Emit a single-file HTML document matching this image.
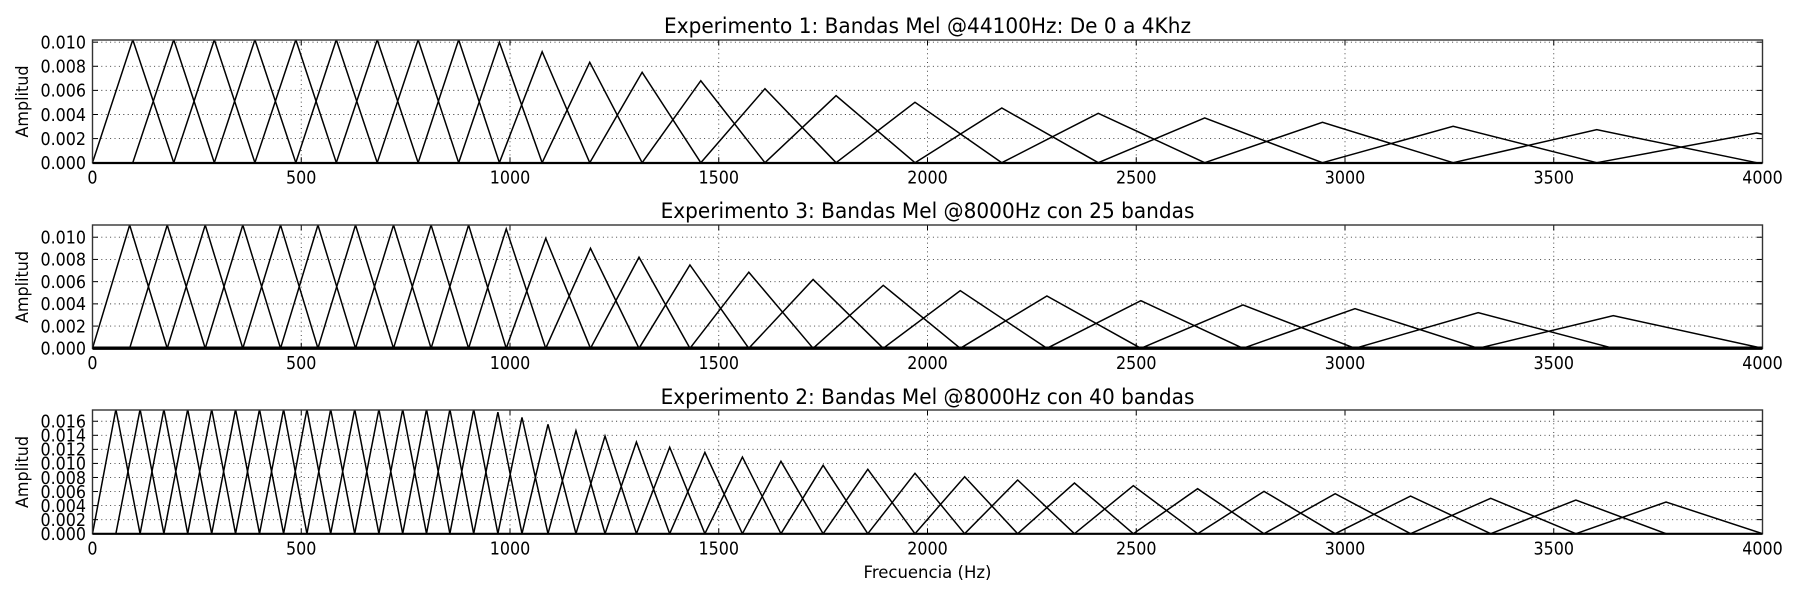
<!DOCTYPE html>
<html>
<head>
<meta charset="utf-8">
<title>Bandas Mel</title>
<style>
html,body{margin:0;padding:0;background:#fff;width:1800px;height:597px;overflow:hidden}
svg{display:block}
text{font-family:"DejaVu Sans","Liberation Sans",sans-serif;fill:#000}
.tick{font-size:17.8px}
.title{font-size:21.5px;text-anchor:middle}
.axlabel{font-size:17px;text-anchor:middle}
</style>
</head>
<body>
<svg id="fig" xmlns="http://www.w3.org/2000/svg" width="1800" height="597" viewBox="0 0 1800 597">
<rect x="0" y="0" width="1800" height="597" fill="#fff"/>
<g id="panel-0"></g>
<g id="panel-1"></g>
<g id="panel-2"></g>
<text class="title" x="927.5" y="33">Experimento 1: Bandas Mel @44100Hz: De 0 a 4Khz</text>
<text class="title" x="927.5" y="218">Experimento 3: Bandas Mel @8000Hz con 25 bandas</text>
<text class="title" x="927.5" y="404">Experimento 2: Bandas Mel @8000Hz con 40 bandas</text>
<text class="axlabel ylab" transform="translate(28,101.5) rotate(-90)">Amplitud</text>
<text class="axlabel ylab" transform="translate(28,287) rotate(-90)">Amplitud</text>
<text class="axlabel ylab" transform="translate(28,472) rotate(-90)">Amplitud</text>
<text class="axlabel xlab" x="927.5" y="578">Frecuencia (Hz)</text>
</svg>
<script>
// Shared x axis ticks (Hz)
const xTicks = [0, 500, 1000, 1500, 2000, 2500, 3000, 3500, 4000];
const xTickLabels = ['0', '500', '1000', '1500', '2000', '2500', '3000', '3500', '4000'];

// Experiment 1: band edges (Hz) and peak amplitudes
const exp1Edges = [0, 96.5, 194.6, 291.8, 389, 487, 584, 682, 780, 877, 974.6, 1077, 1191, 1316.5, 1457, 1610.7, 1781, 1970, 2178, 2409, 2664, 2946, 3259, 3603, 3986, 4370];
const exp1Peaks = [0.0102, 0.0102, 0.0102, 0.0102, 0.0102, 0.0102, 0.0102, 0.0102, 0.0102, 0.00999, 0.00921, 0.00833, 0.0075, 0.0068, 0.00614, 0.00556, 0.00501, 0.00454, 0.0041, 0.00371, 0.00335, 0.00302, 0.00274, 0.00246];
const exp1YTicks = [0, 0.002, 0.004, 0.006, 0.008, 0.01];
const exp1YLabels = ['0.000', '0.002', '0.004', '0.006', '0.008', '0.010'];

// Experiment 3: band edges (Hz) and peak amplitudes
const exp3Edges = [0, 89, 179, 270, 360, 450.4, 540, 630, 721, 811, 900.8, 991, 1085.6, 1192.8, 1309, 1431, 1572, 1726, 1894, 2078.5, 2286, 2511, 2755.6, 3024, 3319, 3642.6, 4000];
const exp3Peaks = [0.0111, 0.0111, 0.0111, 0.0111, 0.0111, 0.0111, 0.0111, 0.0111, 0.0111, 0.0111, 0.01075, 0.0099, 0.009, 0.0082, 0.0075, 0.00685, 0.0062, 0.00567, 0.00519, 0.00471, 0.00429, 0.0039, 0.00357, 0.00321, 0.00294];
const exp3YTicks = [0, 0.002, 0.004, 0.006, 0.008, 0.01];
const exp3YLabels = ['0.000', '0.002', '0.004', '0.006', '0.008', '0.010'];

// Experiment 2: band edges (Hz) and peak amplitudes
const exp2Edges = [0, 56, 114, 171, 228, 285.5, 342.6, 400, 457.7, 513.6, 570.5, 628, 686, 743, 800, 856, 913, 971, 1028.7, 1091, 1158, 1227.6, 1302.8, 1382.5, 1466.8, 1556.7, 1649, 1750, 1857, 1970, 2089, 2216, 2352, 2493, 2647, 2806, 2976.5, 3157, 3349, 3553, 3769, 4000];
const exp2Peaks = [0.0177, 0.0177, 0.0177, 0.0177, 0.0177, 0.0177, 0.0177, 0.0177, 0.0177, 0.0177, 0.0177, 0.0177, 0.0177, 0.0177, 0.0177, 0.0177, 0.0173, 0.01655, 0.01556, 0.01466, 0.0139, 0.01305, 0.0123, 0.01157, 0.0109, 0.0103, 0.00973, 0.00916, 0.00859, 0.00811, 0.00764, 0.00721, 0.00683, 0.0064, 0.00603, 0.00569, 0.00536, 0.00504, 0.00479, 0.00451];
const exp2YTicks = [0, 0.002, 0.004, 0.006, 0.008, 0.01, 0.012, 0.014, 0.016];
const exp2YLabels = ['0.000', '0.002', '0.004', '0.006', '0.008', '0.010', '0.012', '0.014', '0.016'];

const NS = 'http://www.w3.org/2000/svg';
const xLeft = 92.5, xRight = 1762.5, xMax = 4000;
function xPos(hz) { return xLeft + (hz / xMax) * (xRight - xLeft); }

function makeEl(tag, parent, attrs) {
  const el = document.createElementNS(NS, tag);
  for (const k in attrs) { el.setAttribute(k, attrs[k]); }
  parent.appendChild(el);
  return el;
}

function drawPanel(index, key, top, bottom, yMax, edges, peaks, yTicks, yLabels, baseWidth, baseY) {
  const g = document.getElementById('panel-' + index);
  const yPos = function (v) { return bottom - (v / yMax) * (bottom - top); };
  const clipId = 'clip-' + index;
  const defs = makeEl('defs', g, {});
  const clip = makeEl('clipPath', defs, { id: clipId });
  makeEl('rect', clip, { x: xLeft, y: top, width: xRight - xLeft, height: bottom - top + 2 });

  // grid + x ticks
  xTicks.forEach(function (t, i) {
    const x = xPos(t);
    const grid = makeEl('line', g, { x1: x, x2: x, y1: top, y2: bottom, stroke: '#333', 'stroke-width': 0.9, 'stroke-dasharray': '1 3.4' });
    
    
    const t1 = makeEl('line', g, { x1: x, x2: x, y1: bottom, y2: bottom - 5.5, stroke: '#000', 'stroke-width': 1 });
    
    
    const t2 = makeEl('line', g, { x1: x, x2: x, y1: top, y2: top + 5.5, stroke: '#000', 'stroke-width': 1 });
    
    
    const lab = makeEl('text', g, { class: 'tick', x: x, y: bottom + 20.8, 'text-anchor': 'middle' });
    lab.textContent = xTickLabels[i];
    
    
  });

  // grid + y ticks
  yTicks.forEach(function (t, i) {
    const y = yPos(t);
    const grid = makeEl('line', g, { x1: xLeft, x2: xRight, y1: y, y2: y, stroke: '#333', 'stroke-width': 0.9, 'stroke-dasharray': '1 3.4' });
    
    
    const t1 = makeEl('line', g, { x1: xLeft, x2: xLeft + 5.5, y1: y, y2: y, stroke: '#000', 'stroke-width': 1 });
    
    
    const t2 = makeEl('line', g, { x1: xRight, x2: xRight - 5.5, y1: y, y2: y, stroke: '#000', 'stroke-width': 1 });
    
    
    const lab = makeEl('text', g, { class: 'tick', x: 86, y: y + 6.3, 'text-anchor': 'end' });
    lab.textContent = yLabels[i];
    
    
  });

  // triangular filters
  const clipG = makeEl('g', g, { 'clip-path': 'url(#' + clipId + ')' });
  peaks.forEach(function (p, i) {
    const pts = [
      [edges[i], 0],
      [edges[i + 1], p],
      [edges[i + 2], 0]
    ].map(function (q) { return xPos(q[0]).toFixed(2) + ',' + yPos(q[1]).toFixed(2); }).join(' ');
    const band = makeEl('polyline', clipG, { points: pts, fill: 'none', stroke: '#000', 'stroke-width': 1.5, 'stroke-linejoin': 'miter' });
    
    
  });

  // frame
  const frame = makeEl('rect', g, { x: xLeft, y: top, width: xRight - xLeft, height: bottom - top, fill: 'none', stroke: '#333', 'stroke-width': 1.4 });
  
  

  // baseline where all filters sit at zero
  const base = makeEl('line', g, { x1: xPos(0), x2: xPos(xMax), y1: baseY, y2: baseY, stroke: '#000', 'stroke-width': baseWidth });
  
  
}

drawPanel(0, 'experiment-1', 40, 162.7, 0.01018, exp1Edges, exp1Peaks, exp1YTicks, exp1YLabels, 2.2, 163);
drawPanel(1, 'experiment-3', 225, 348.3, 0.0111, exp3Edges, exp3Peaks, exp3YTicks, exp3YLabels, 3.4, 348.2);
drawPanel(2, 'experiment-2', 410, 533.7, 0.0176, exp2Edges, exp2Peaks, exp2YTicks, exp2YLabels, 2.2, 533.8);

// Original figure text is slightly condensed horizontally: fit measured text widths
const squeezeSelectors = ['.tick', '.title', '.ylab', '.xlab'];
const squeezeFactors = [0.895, 0.934, 0.94, 0.97];
squeezeSelectors.forEach(function (sel, i) {
  document.querySelectorAll(sel).forEach(function (el) {
    const len = el.getComputedTextLength();
    el.setAttribute('textLength', (len * squeezeFactors[i]).toFixed(2));
    el.setAttribute('lengthAdjust', 'spacingAndGlyphs');
  });
});
</script>
</body>
</html>
